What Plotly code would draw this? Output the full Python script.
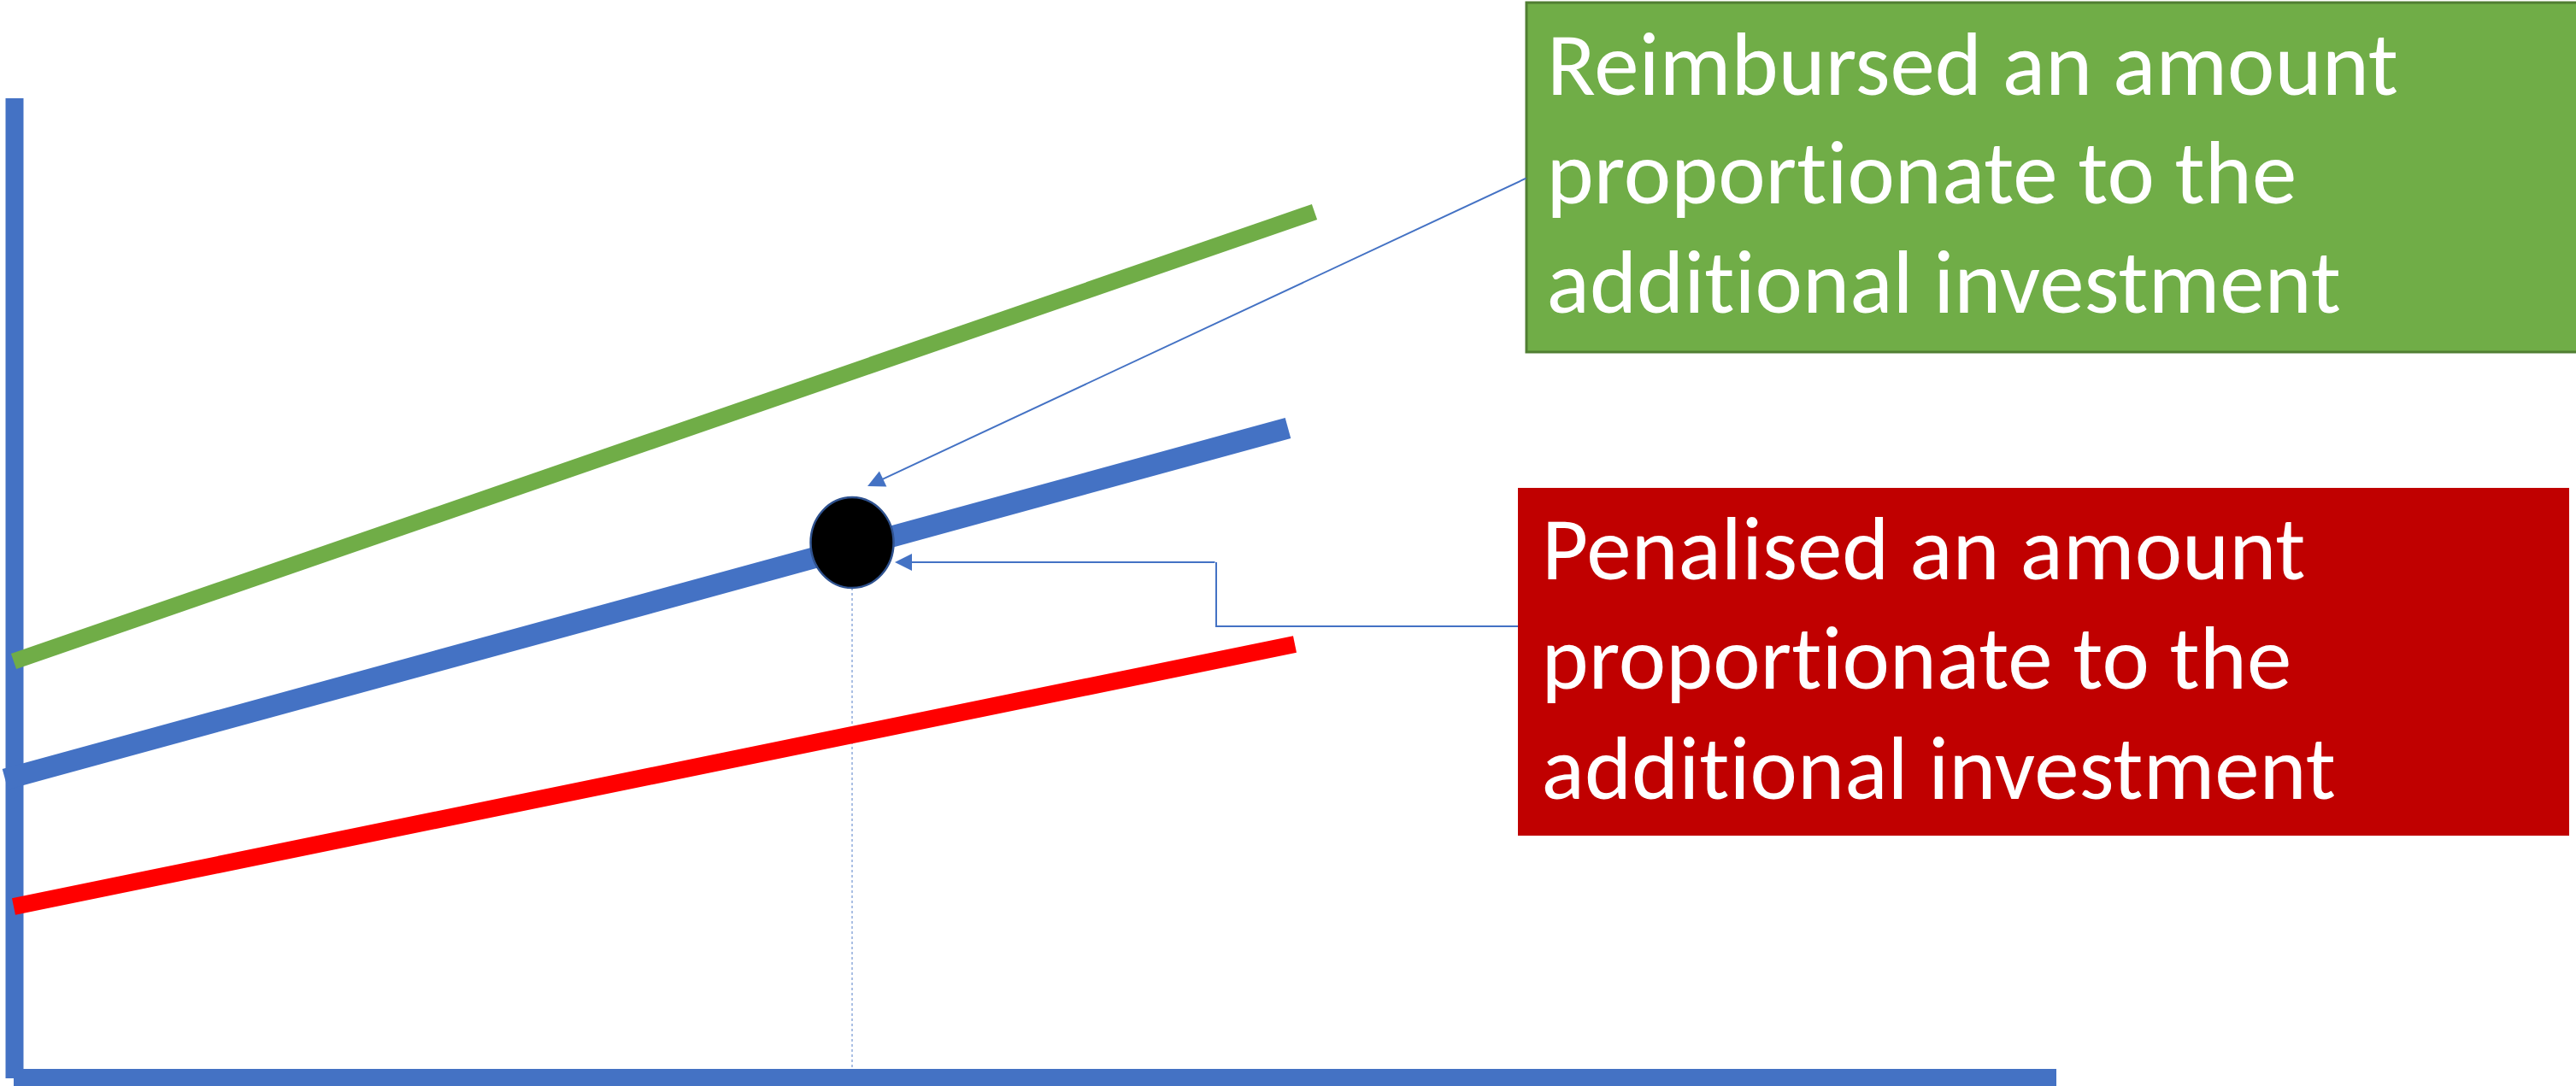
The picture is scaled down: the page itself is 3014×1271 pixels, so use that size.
import plotly.graph_objects as go

# ---- data (diagram units: x to the right, y upward) ----
line_names = ["Reimbursed", "Baseline", "Penalised"]
line_x0 = [16, 6, 16]
line_y0 = [497, 359, 210]
line_x1 = [1538, 1507, 1515]
line_y1 = [1023, 770, 517]
line_colors = ["#70AD47", "#4472C4", "#FF0000"]
line_widths = [19, 25, 20]

point_x = [997]
point_y = [636]

axis_v_x = [17, 17]
axis_v_y = [9, 1156]
axis_h_x = [16, 2406]
axis_h_y = [10, 10]

green_text = ["Reimbursed an amount", "proportionate to the", "additional investment"]
red_text = ["Penalised an amount", "proportionate to the", "additional investment"]

green_box = dict(x0=1786, x1=3040, y0=859, y1=1268)
red_box = dict(x0=1776, x1=3006, y0=293, y1=700)

green_conn_from = (1787, 1063)
green_conn_to = (1015, 702)
red_conn_x = [1776, 1423, 1423]
red_conn_y = [538, 538, 613]
red_conn_to = (1047, 613)

W, H = 3014, 1271
FONT = "Carlito, Calibri, Lato, sans-serif"

fig = go.Figure()

# axes of the diagram
fig.add_trace(go.Scatter(x=axis_v_x, y=axis_v_y, mode="lines",
                         line=dict(color="#4472C4", width=21), hoverinfo="skip"))
fig.add_trace(go.Scatter(x=axis_h_x, y=axis_h_y, mode="lines",
                         line=dict(color="#4472C4", width=20), hoverinfo="skip"))

# dotted drop line from the point to the x axis
fig.add_trace(go.Scatter(x=[point_x[0], point_x[0]], y=[point_y[0] - 53, axis_h_y[0] + 10],
                         mode="lines", line=dict(color="#8FAADC", width=1.5, dash="dot"),
                         hoverinfo="skip"))

# three sloped lines
for name, x0, y0, x1, y1, c, w in zip(line_names, line_x0, line_y0, line_x1, line_y1,
                                      line_colors, line_widths):
    fig.add_trace(go.Scatter(x=[x0, x1], y=[y0, y1], mode="lines", name=name,
                             line=dict(color=c, width=w), hoverinfo="skip"))

# elbow connector from the red box
fig.add_trace(go.Scatter(x=red_conn_x, y=red_conn_y, mode="lines",
                         line=dict(color="#4472C4", width=2), hoverinfo="skip"))

shapes = []
# the point (black ellipse)
shapes.append(dict(type="circle", xref="x", yref="y",
                   x0=point_x[0] - 48.5, x1=point_x[0] + 48.5,
                   y0=point_y[0] - 53, y1=point_y[0] + 53,
                   fillcolor="black", line=dict(color="#2F528F", width=2.5), layer="above"))
# text boxes
shapes.append(dict(type="rect", xref="x", yref="y", **green_box,
                   fillcolor="#70AD47", line=dict(color="#507E32", width=3), layer="above"))
shapes.append(dict(type="rect", xref="x", yref="y", **red_box,
                   fillcolor="#C00000", line=dict(width=0), layer="above"))

annotations = []
# arrows
annotations.append(dict(x=green_conn_to[0], y=green_conn_to[1], ax=green_conn_from[0],
                        ay=green_conn_from[1], xref="x", yref="y", axref="x", ayref="y",
                        text="", showarrow=True, arrowhead=2, arrowsize=2, arrowwidth=2,
                        arrowcolor="#4472C4", standoff=0))
annotations.append(dict(x=red_conn_to[0], y=red_conn_to[1], ax=red_conn_x[-1],
                        ay=red_conn_y[-1], xref="x", yref="y", axref="x", ayref="y",
                        text="", showarrow=True, arrowhead=2, arrowsize=2, arrowwidth=2,
                        arrowcolor="#4472C4", standoff=0))

# box texts (one annotation per line to control line spacing)
green_mid_y = [1196, 1069, 941]
red_mid_y = [629, 501, 372]
for t, yy in zip(green_text, green_mid_y):
    annotations.append(dict(x=1808, y=yy, xref="x", yref="y", text=t, showarrow=False,
                            xanchor="left", yanchor="middle",
                            font=dict(family=FONT, size=105, color="white")))
for t, yy in zip(red_text, red_mid_y):
    annotations.append(dict(x=1802, y=yy, xref="x", yref="y", text=t, showarrow=False,
                            xanchor="left", yanchor="middle",
                            font=dict(family=FONT, size=105, color="white")))

fig.update_layout(
    width=W, height=H,
    margin=dict(l=0, r=0, t=0, b=0, pad=0),
    paper_bgcolor="white", plot_bgcolor="white",
    showlegend=False,
    shapes=shapes, annotations=annotations,
    xaxis=dict(range=[0, W], visible=False, fixedrange=True),
    yaxis=dict(range=[0, H], visible=False, fixedrange=True),
)

post = """
document.body.style.margin = '0px';
document.body.style.overflow = 'hidden';
var st = document.createElement('style');
st.textContent = 'text { font-variant-ligatures: none !important; font-feature-settings: "liga" 0, "clig" 0 !important; }';
document.head.appendChild(st);
"""

fig.write_html("out.html", config={"displayModeBar": False}, post_script=post)
